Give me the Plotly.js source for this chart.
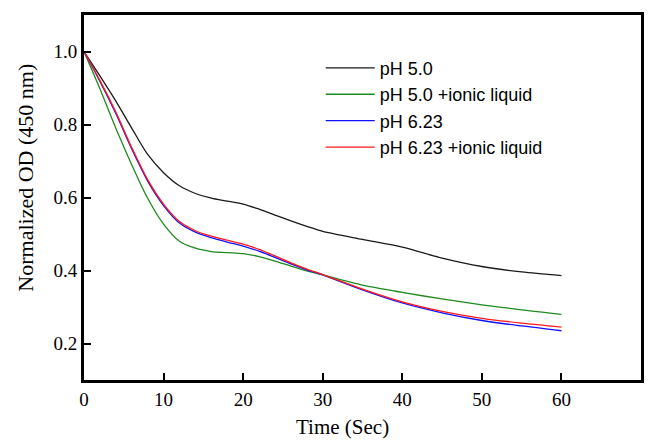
<!DOCTYPE html>
<html>
<head>
<meta charset="utf-8">
<script src="https://cdn.plot.ly/plotly-3.0.1.min.js"></script>
<style>html,body{margin:0;padding:0;background:#fff;}#chart{width:648px;height:440px;}</style>
</head>
<body>
<div id="chart"></div>
<script>
const time = [0, 2, 4, 6, 8, 10, 12, 14, 16, 18, 20, 22, 24, 26, 28, 30, 35, 40, 45, 50, 55, 60];
const ph50 = [1.0, 0.933, 0.864, 0.790, 0.718, 0.668, 0.632, 0.611, 0.598, 0.590, 0.582, 0.568, 0.552, 0.536, 0.521, 0.507, 0.485, 0.464, 0.434, 0.411, 0.396, 0.386];
const ph50IL = [1.0, 0.898, 0.790, 0.690, 0.598, 0.527, 0.480, 0.461, 0.452, 0.449, 0.446, 0.438, 0.426, 0.412, 0.399, 0.388, 0.360, 0.340, 0.322, 0.306, 0.292, 0.280];
const ph623 = [1.0, 0.918, 0.830, 0.733, 0.645, 0.578, 0.530, 0.505, 0.490, 0.478, 0.467, 0.453, 0.436, 0.418, 0.402, 0.388, 0.347, 0.311, 0.284, 0.263, 0.248, 0.235];
const ph623IL = [1.0, 0.921, 0.834, 0.737, 0.649, 0.582, 0.534, 0.509, 0.494, 0.483, 0.472, 0.458, 0.440, 0.421, 0.404, 0.389, 0.349, 0.314, 0.288, 0.269, 0.256, 0.245];
const seriesNames = ["pH 5.0", "pH 5.0 +ionic liquid", "pH 6.23", "pH 6.23 +ionic liquid"];
const seriesColors = ["#1a1a1a", "#1f8a1f", "#1010ff", "#ff1a1a"];
const yTicks = [0.2, 0.4, 0.6, 0.8, 1.0];
const xTicks = [0, 10, 20, 30, 40, 50, 60, 70];
const xTitle = 'Time (Sec)';
const yTitle = 'Normalized OD (450 nm)';

const allY = [ph50, ph50IL, ph623, ph623IL];
const traces = allY.map((y, i) => ({
  x: time, y: y, type: 'scatter', mode: 'lines',
  name: seriesNames[i],
  line: {color: seriesColors[i], width: 1.3, shape: 'spline', smoothing: 0.8}
}));

const serif = 'Liberation Serif';
const layout = {
  width: 648, height: 440,
  margin: {l: 84, r: 7, t: 15, b: 60},
  paper_bgcolor: '#fff', plot_bgcolor: '#fff',
  showlegend: true,
  legend: {x: 0.425, y: 0.905, xanchor: 'left', yanchor: 'top', itemwidth: 49,
    font: {family: 'Liberation Sans', size: 18, color: '#000'},
    bgcolor: 'rgba(0,0,0,0)'},
  xaxis: {range: [0, 70], tickvals: xTicks, ticks: 'inside', ticklen: 7, tickwidth: 2, tickcolor: '#000',
    showline: true, linewidth: 3, linecolor: '#000', mirror: true, showgrid: false, zeroline: false,
    tickfont: {family: serif, size: 19, color: '#000'}},
  yaxis: {range: [0.1, 1.1], tickvals: yTicks, tickformat: '.1f', ticks: 'inside', ticklen: 7, tickwidth: 2, tickcolor: '#000',
    showline: true, linewidth: 3, linecolor: '#000', mirror: true, showgrid: false, zeroline: false,
    tickfont: {family: serif, size: 19, color: '#000'}},
  annotations: [
    {text: xTitle, xref: 'paper', yref: 'paper', x: 0.4645, y: -0.129, xanchor: 'center', yanchor: 'middle',
      showarrow: false, font: {family: serif, size: 21, color: '#000'}},
    {text: yTitle, xref: 'paper', yref: 'paper', x: -0.105, y: 0.553, xanchor: 'center', yanchor: 'middle',
      textangle: -90, showarrow: false, font: {family: serif, size: 22, color: '#000'}}
  ]
};
Plotly.newPlot('chart', traces, layout, {staticPlot: true, displayModeBar: false});
</script>
</body>
</html>
